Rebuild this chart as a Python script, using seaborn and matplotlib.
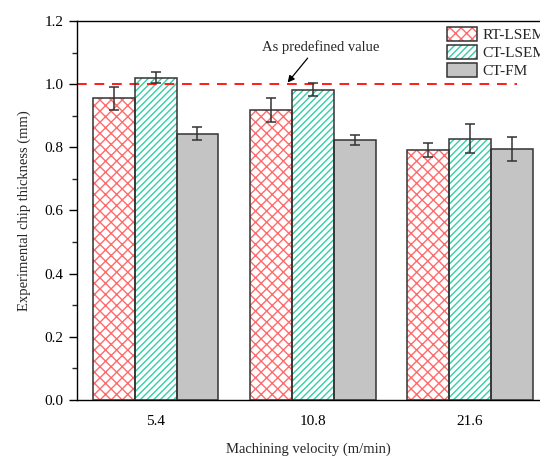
import matplotlib
matplotlib.use("Agg")
import matplotlib.pyplot as plt
import numpy as np
import pandas as pd
import seaborn as sns
from matplotlib import ticker
from matplotlib.legend_handler import HandlerTuple
from matplotlib.patches import Patch, Rectangle

# data
speeds = ["5.4", "10.8", "21.6"]
methods = ["RT-LSEM", "CT-LSEM", "CT-FM"]
rt_lsem = [0.955, 0.919, 0.791]
ct_lsem = [1.021, 0.983, 0.827]
ct_fm = [0.843, 0.822, 0.795]
rt_lsem_err = [0.037, 0.038, 0.023]
ct_lsem_err = [0.016, 0.020, 0.046]
ct_fm_err = [0.020, 0.016, 0.038]
predefined = 1.0

values = [rt_lsem, ct_lsem, ct_fm]
errors = [rt_lsem_err, ct_lsem_err, ct_fm_err]

df = pd.DataFrame({
    "speed": np.tile(speeds, len(methods)),
    "method": np.repeat(methods, len(speeds)),
    "thickness": np.concatenate(values),
})

sns.set_theme(style="ticks")
plt.rcParams["font.family"] = ["Liberation Serif", "DejaVu Serif"]
plt.rcParams["hatch.linewidth"] = 1.0
plt.rcParams["axes.linewidth"] = 1.0

hatch_col = {"RT-LSEM": "#ff6b6b", "CT-LSEM": "#33cfa6", "CT-FM": "#c4c4c4"}
face_col = {"RT-LSEM": "white", "CT-LSEM": "white", "CT-FM": "#c4c4c4"}
hatches = {"RT-LSEM": "xxx", "CT-LSEM": "/////", "CT-FM": ""}
edge_dark = "#333333"

fig = plt.figure(figsize=(5.4, 4.57), dpi=100)
ax = fig.add_axes([77 / 540, 1 - 400 / 457, 1 - 77 / 540, (400 - 21) / 457])

sns.barplot(data=df, x="speed", y="thickness", hue="method", order=speeds,
            hue_order=methods, palette=face_col, errorbar=None, width=0.8,
            linewidth=0, legend=False, saturation=1, ax=ax)

for m, cont, errs in zip(methods, ax.containers, errors):
    xs = []
    for bar in cont:
        bar.set_facecolor(face_col[m])
        bar.set_hatch(hatches[m])
        bar.set_edgecolor(hatch_col[m])
        bar.set_linewidth(0)
        ax.add_patch(Rectangle((bar.get_x(), 0), bar.get_width(), bar.get_height(),
                               fill=False, edgecolor=edge_dark, lw=1.1, zorder=3))
        xs.append(bar.get_x() + bar.get_width() / 2)
    ax.errorbar(xs, [b.get_height() for b in cont], yerr=errs, fmt="none",
                ecolor=edge_dark, elinewidth=1.1, capsize=3.5, capthick=1.1, zorder=4)

ax.plot([-0.5, 2.3], [predefined, predefined], ls=(0, (5, 4)), color="#ff1a1a", lw=1.4, zorder=2)
ax.annotate("As predefined value", xy=(0.84, 1.005), xytext=(1.05, 1.118),
            ha="center", va="center", fontsize=10.5,
            arrowprops=dict(arrowstyle="-|>", color="black", lw=0.9,
                            mutation_scale=10, relpos=(0.42, 0.0), shrinkA=1, shrinkB=0))

ax.set_xlim(-0.5, 2.446)
ax.set_ylim(0, 1.2)
ax.yaxis.set_major_locator(ticker.MultipleLocator(0.2))
ax.yaxis.set_minor_locator(ticker.MultipleLocator(0.1))
ax.yaxis.set_major_formatter(ticker.FormatStrFormatter("%.1f"))
ax.tick_params(axis="y", which="major", direction="out", length=6, width=1, labelsize=11, colors="black")
ax.tick_params(axis="y", which="minor", direction="out", length=3.5, width=1)
ax.tick_params(axis="x", length=0, labelsize=11, pad=11, colors="black")
ax.set_xlabel("Machining velocity (m/min)", fontsize=10.5, labelpad=10)
ax.set_ylabel("Experimental chip thickness (mm)", fontsize=10.5, labelpad=10)
for side in ["left", "bottom", "top"]:
    ax.spines[side].set_visible(True)
    ax.spines[side].set_color("black")
ax.spines["right"].set_visible(False)

handles = [(Patch(facecolor=face_col[m], edgecolor=hatch_col[m], hatch=hatches[m], lw=0),
            Patch(fill=False, edgecolor=edge_dark, lw=1.1)) for m in methods]
leg = ax.legend(handles, methods, loc="upper left", bbox_to_anchor=(0.799, 0.984),
                frameon=False, fontsize=11, handlelength=2.0, handleheight=1.0,
                handletextpad=0.35, labelspacing=0.2, borderpad=0, borderaxespad=0,
                handler_map={tuple: HandlerTuple(ndivide=1, pad=0)})

fig.savefig("out.png", dpi=100)
